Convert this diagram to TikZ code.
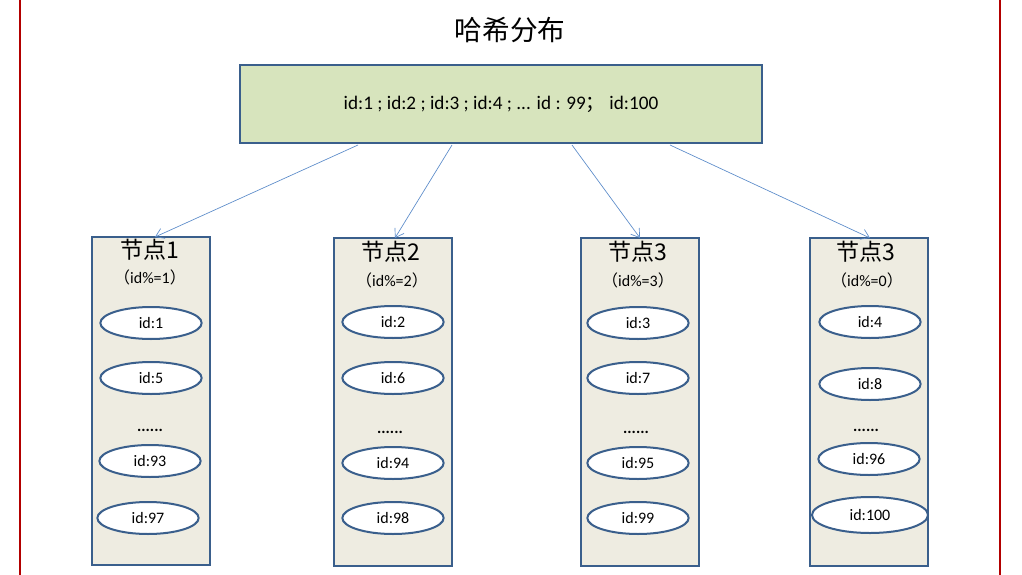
\documentclass[tikz,border=0pt]{standalone}
\usepackage{fontspec}
\setmainfont{Carlito}
\newfontfamily\cjk{Noto Sans CJK SC}
\usetikzlibrary{arrows.meta, shapes.geometric}
\definecolor{frame}{HTML}{3A5F8C}
\definecolor{paper}{HTML}{EEECE1}
\definecolor{leaf}{HTML}{D7E4BD}
\definecolor{wire}{HTML}{5B8BC9}
\tikzset{server/.style={draw=frame, line width=1.6pt, fill=paper, minimum width=88.5pt, minimum height=246pt}}
\tikzset{key/.style={draw=frame, ellipse, line width=1.5pt, fill=white, minimum width=76pt, minimum height=24pt, inner sep=0pt, font=\large}}
\tikzset{head/.style={font=\cjk\LARGE}}
\tikzset{rule/.style={font=\large}}
\tikzset{dots/.style={font=\large\bfseries}}
\tikzset{link/.style={draw=wire, line width=0.5pt, -{Straight Barb[length=6pt,width=8pt]}}}

\begin{document}
\begin{tikzpicture}[x=0.75pt,y=-0.75pt]
\useasboundingbox (0,0) rectangle (1022,575);
\draw[red!70!black, line width=1.5pt] (20,0) -- (20,575) (1000,0) -- (1000,575);
\node[font=\cjk\huge] (title) at (510,30) {哈希分布};
\node[draw=frame, line width=1.6pt, fill=leaf, minimum width=391pt, minimum height=58pt, font=\Large] (ids) at (501,104)
  {id:1 ; id:2 ; id:3 ; id:4 ; ... id : 99{\cjk ；} id:100};

% node 1
\node[server] (s1) at (151,401) {};
\node[head] (h1) at (150,250) {节点1};
\node[rule] (r1) at (150,277) {{\cjk （}id\%=1{\cjk ）}};
\node[key] (k1a) at (151,323) {id:1};
\node[key] (k1b) at (151,378) {id:5};
\node[dots] (d1) at (150,430) {......};
\node[key] (k1c) at (150,461) {id:93};
\node[key] (k1d) at (148,518) {id:97};
% node 2
\node[server] (s2) at (393,402) {};
\node[head] (h2) at (391,252) {节点2};
\node[rule] (r2) at (392,280) {{\cjk （}id\%=2{\cjk ）}};
\node[key] (k2a) at (393,322) {id:2};
\node[key] (k2b) at (393,378) {id:6};
\node[dots] (d2) at (390,432) {......};
\node[key] (k2c) at (393,463) {id:94};
\node[key] (k2d) at (393,518) {id:98};
% node 3
\node[server] (s3) at (640,402) {};
\node[head] (h3) at (638,252) {节点3};
\node[rule] (r3) at (638,280) {{\cjk （}id\%=3{\cjk ）}};
\node[key] (k3a) at (638,323) {id:3};
\node[key] (k3b) at (638,378) {id:7};
\node[dots] (d3) at (636,432) {......};
\node[key] (k3c) at (638,463) {id:95};
\node[key] (k3d) at (638,518) {id:99};
% node 4
\node[server] (s4) at (869,402) {};
\node[head] (h4) at (866,252) {节点3};
\node[rule] (r4) at (867,280) {{\cjk （}id\%=0{\cjk ）}};
\node[key] (k4a) at (870,322) {id:4};
\node[key] (k4b) at (870,384) {id:8};
\node[dots] (d4) at (866,430) {......};
\node[key] (k4c) at (869,459) {id:96};
\node[key, minimum width=87pt, minimum height=27pt] (k4d) at (870,515) {id:100};

\coordinate (o1) at (358,145); \coordinate (t1) at (155,237);
\coordinate (o2) at (452,145); \coordinate (t2) at (395,238);
\coordinate (o3) at (572,145); \coordinate (t3) at (640,238);
\coordinate (o4) at (670,145); \coordinate (t4) at (870,238);
\draw[link] (o1) -- (t1);
\draw[link] (o2) -- (t2);
\draw[link] (o3) -- (t3);
\draw[link] (o4) -- (t4);
\end{tikzpicture}
\end{document}
